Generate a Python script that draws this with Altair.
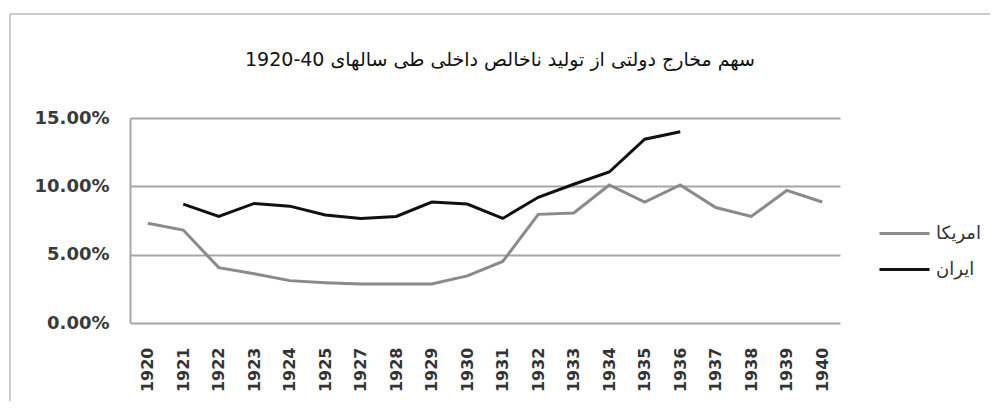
import altair as alt
import pandas as pd

years = ["1920", "1921", "1922", "1923", "1924", "1925", "1927", "1928", "1929", "1930",
         "1931", "1932", "1933", "1934", "1935", "1936", "1937", "1938", "1939", "1940"]
america = [7.3, 6.8, 4.05, 3.6, 3.1, 2.95, 2.85, 2.85, 2.85, 3.45,
           4.5, 7.95, 8.05, 10.1, 8.85, 10.1, 8.45, 7.8, 9.7, 8.85]
iran_years = ["1921", "1922", "1923", "1924", "1925", "1927", "1928", "1929", "1930",
              "1931", "1932", "1933", "1934", "1935", "1936"]
iran = [8.7, 7.8, 8.75, 8.55, 7.9, 7.65, 7.8, 8.85, 8.7, 7.65, 9.2, 10.15, 11.05, 13.45, 14.0]
series = ["امریکا", "ایران"]
colors = ["#8a8a8a", "#111111"]
title_text = "\u202bسهم مخارج دولتی از تولید ناخالص  داخلی طی سالهای \u202a1920-40\u202c\u202c"

rows = [{"year": y, "country": series[0], "value": v / 100} for y, v in zip(years, america)]
rows += [{"year": y, "country": series[1], "value": v / 100} for y, v in zip(iran_years, iran)]
df = pd.DataFrame(rows)

lines = alt.Chart(df).mark_line(strokeWidth=3).encode(
    x=alt.X("year:O", sort=years, title=None,
            axis=alt.Axis(labelAngle=-90, labelFont="DejaVu Sans", labelFontSize=16,
                          labelFontWeight="bold", labelColor="#333333", labelPadding=24,
                          ticks=False, domain=False, grid=False)),
    y=alt.Y("value:Q", title=None, scale=alt.Scale(domain=[0, 0.15], nice=False),
            axis=alt.Axis(values=[0, 0.05, 0.1, 0.15], format=".2%", labelFont="DejaVu Sans",
                          labelFontSize=18, labelFontWeight="bold", labelColor="#3a3a3a",
                          labelPadding=21,
                          ticks=False, domain=True, domainColor="#a6a6a6", domainWidth=2,
                          grid=True, gridColor="#a6a6a6", gridWidth=2)),
    color=alt.Color("country:N", scale=alt.Scale(domain=series, range=colors), title=None,
                    legend=alt.Legend(orient="none", legendX=748, legendY=89,
                                      symbolType="stroke", symbolSize=2500, symbolStrokeWidth=3,
                                      labelFont="DejaVu Sans", labelFontSize=18,
                                      labelColor="#333333", rowPadding=0, labelOffset=5)),
)

border = alt.Chart(pd.DataFrame({"k": [0]})).mark_rule(color="#cccccc", strokeWidth=2).encode(
    x=alt.value(-120), x2=alt.value(880), y=alt.value(-104)
) + alt.Chart(pd.DataFrame({"k": [0]})).mark_rule(color="#cccccc", strokeWidth=2).encode(
    x=alt.value(-120), y=alt.value(-104), y2=alt.value(300)
)

chart = alt.layer(border, lines).properties(
    width=710, height=205,
    autosize=alt.AutoSizeParams(type="none"),
    padding={"left": 122, "top": 110, "right": 150, "bottom": 78},
    title=alt.TitleParams(title_text, font="DejaVu Sans", fontSize=19, fontWeight="normal",
                          color="#111111", anchor="middle", offset=0, dx=15, dy=57),
).configure_view(stroke=None)

chart.save("out.html", embed_options={"renderer": "svg", "actions": False})
